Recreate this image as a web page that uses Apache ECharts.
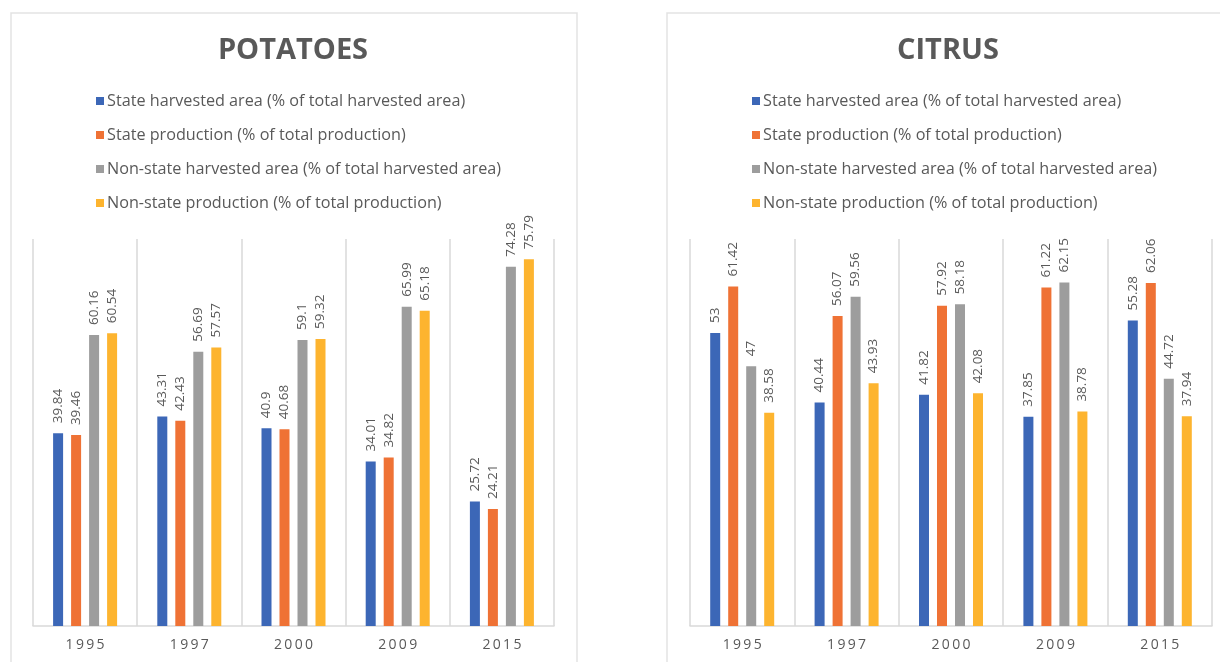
<!DOCTYPE html>
<html>
<head>
<meta charset="utf-8">
<script src="https://cdn.jsdelivr.net/npm/echarts@6/dist/echarts.min.js"></script>
<style>
  html, body { margin: 0; padding: 0; background: #ffffff; }
  #chart { width: 1220px; height: 662px; }
</style>
</head>
<body>
<div id="chart"></div>
<script>
// Category years shared by both panels
const years = ['1995', '1997', '2000', '2009', '2015'];

// Series names (legend entries)
const seriesNames = [
  'State harvested area (% of total harvested area)',
  'State production (% of total production)',
  'Non-state harvested area (% of total harvested area)',
  'Non-state production (% of total production)'
];

// Potatoes
const potatoStateArea = [39.84, 43.31, 40.9, 34.01, 25.72];
const potatoStateProd = [39.46, 42.43, 40.68, 34.82, 24.21];
const potatoNonStateArea = [60.16, 56.69, 59.1, 65.99, 74.28];
const potatoNonStateProd = [60.54, 57.57, 59.32, 65.18, 75.79];

// Citrus
const citrusStateArea = [53, 40.44, 41.82, 37.85, 55.28];
const citrusStateProd = [61.42, 56.07, 57.92, 61.22, 62.06];
const citrusNonStateArea = [47, 59.56, 58.18, 62.15, 44.72];
const citrusNonStateProd = [38.58, 43.93, 42.08, 38.78, 37.94];

const colors = ['#3C67B7', '#EF7235', '#9D9D9D', '#FDB42F'];
const textColor = '#595959';
const gridLine = '#D9D9D9';

const potatoSeries = [potatoStateArea, potatoStateProd, potatoNonStateArea, potatoNonStateProd];
const citrusSeries = [citrusStateArea, citrusStateProd, citrusNonStateArea, citrusNonStateProd];

function makeBars(dataSets, axisIndex) {
  return dataSets.map((d, i) => ({
    name: seriesNames[i],
    type: 'bar',
    xAxisIndex: axisIndex,
    yAxisIndex: axisIndex,
    data: d,
    barWidth: 10,
    barGap: '80%',
    itemStyle: { color: colors[i] },
    label: {
      show: true,
      position: 'top',
      rotate: 90,
      align: 'left',
      verticalAlign: 'middle',
      distance: 10,
      color: textColor,
      fontFamily: 'Open Sans',
      fontSize: 13.5
    }
  }));
}

function makeXAxis(gridIndex) {
  return {
    type: 'category',
    gridIndex: gridIndex,
    data: years,
    axisLine: { lineStyle: { color: gridLine, width: 1.5 } },
    axisTick: { show: false },
    splitLine: { show: true, lineStyle: { color: gridLine, width: 1.5 } },
    axisLabel: {
      color: textColor,
      fontFamily: 'Open Sans',
      fontSize: 14,
      margin: 12,
      formatter: v => v.split('').join('\u2009')
    }
  };
}

function makeLegend(left) {
  return {
    orient: 'vertical',
    left: left,
    top: 87,
    itemWidth: 8,
    itemHeight: 8,
    itemGap: 16,
    icon: 'rect',
    selectedMode: false,
    data: seriesNames,
    textStyle: { color: textColor, fontFamily: 'Open Sans', fontSize: 16.2, lineHeight: 18, padding: [0, 0, 0, -2] }
  };
}

const chart = echarts.init(document.getElementById('chart'), null, { renderer: 'canvas' });

chart.setOption({
  animation: false,
  backgroundColor: '#ffffff',
  color: colors,
  graphic: [
    { type: 'rect', shape: { x: 11, y: 13, width: 566, height: 670 },
      style: { fill: 'none', stroke: '#E3E3E3', lineWidth: 1.5 }, z: -10 },
    { type: 'rect', shape: { x: 667, y: 13, width: 568, height: 670 },
      style: { fill: 'none', stroke: '#E3E3E3', lineWidth: 1.5 }, z: -10 }
  ],
  title: [
    { text: 'POTATOES', left: 288, top: 31, textAlign: 'center',
      textStyle: { color: textColor, fontFamily: 'Open Sans', fontWeight: 'bold', fontSize: 29, letterSpacing: 1.5 } },
    { text: 'CITRUS', left: 943, top: 31, textAlign: 'center',
      textStyle: { color: textColor, fontFamily: 'Open Sans', fontWeight: 'bold', fontSize: 29, letterSpacing: 1.5 } }
  ],
  legend: [makeLegend(91), makeLegend(747)],
  grid: [
    { left: 33, top: 239, width: 521, height: 387 },
    { left: 690, top: 239, width: 522, height: 387 }
  ],
  xAxis: [makeXAxis(0), makeXAxis(1)],
  yAxis: [
    { type: 'value', gridIndex: 0, min: 0, max: 80, show: false, splitLine: { show: false } },
    { type: 'value', gridIndex: 1, min: 0, max: 70, show: false, splitLine: { show: false } }
  ],
  series: [...makeBars(potatoSeries, 0), ...makeBars(citrusSeries, 1)]
});
</script>
</body>
</html>
